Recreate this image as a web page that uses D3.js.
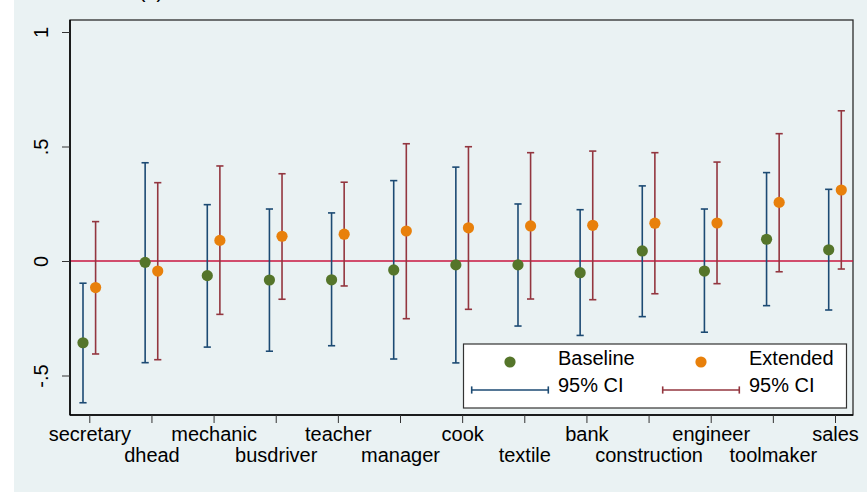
<!DOCTYPE html>
<html>
<head>
<meta charset="utf-8">
<script src="https://cdn.jsdelivr.net/npm/d3@7"></script>
<style>
  html, body { margin: 0; padding: 0; background: #ffffff; }
  svg { display: block; font-family: "Liberation Sans", Arial, sans-serif; }
</style>
</head>
<body>
<svg id="chart" width="867" height="492"></svg>
<script>
// Occupation categories along the x axis
const categories = ["secretary", "dhead", "mechanic", "busdriver", "teacher", "manager",
  "cook", "textile", "bank", "construction", "engineer", "toolmaker", "sales"];

// Baseline model: point estimates and 95% confidence bounds
const baselineEst = [-0.357, -0.006, -0.064, -0.083, -0.082, -0.039, -0.017, -0.017, -0.051, 0.044, -0.044, 0.095, 0.049];
const baselineLo  = [-0.619, -0.444, -0.376, -0.394, -0.370, -0.428, -0.445, -0.284, -0.325, -0.243, -0.311, -0.195, -0.214];
const baselineHi  = [-0.097, 0.429, 0.246, 0.227, 0.210, 0.351, 0.410, 0.249, 0.224, 0.328, 0.227, 0.386, 0.313];

// Extended model: point estimates and 95% confidence bounds
const extendedEst = [-0.116, -0.044, 0.090, 0.108, 0.117, 0.131, 0.145, 0.153, 0.156, 0.165, 0.166, 0.256, 0.310];
const extendedLo  = [-0.406, -0.431, -0.233, -0.167, -0.109, -0.252, -0.211, -0.166, -0.169, -0.143, -0.099, -0.047, -0.035];
const extendedHi  = [0.172, 0.342, 0.415, 0.381, 0.344, 0.512, 0.499, 0.473, 0.480, 0.473, 0.432, 0.556, 0.656];

// Y axis ticks and labels
const yTicks = [-0.5, 0, 0.5, 1];
const yTickLabels = ["-.5", "0", ".5", "1"];

const legendLabels = ["Baseline", "Extended", "95% CI", "95% CI"];

const colors = {
  bg: "#eaf2f3",
  baseDot: "#55752a",
  extDot: "#e8800b",
  baseCI: "#1c4a73",
  extCI: "#93363f",
  zero: "#c8163f"
};

const svg = d3.select("#chart");
const W = 867, H = 492;
const plot = { left: 70, right: 853, top: 20, bottom: 415 };

// Graph region background
svg.append("rect").attr("x", 0).attr("y", 0).attr("width", W).attr("height", H).attr("fill", "#ffffff");
svg.append("rect").attr("x", 14).attr("y", 0).attr("width", W - 14).attr("height", H).attr("fill", colors.bg);

// Partially visible panel title
svg.append("text").attr("x", 151).attr("y", -2).attr("text-anchor", "middle")
  .attr("font-size", 20).attr("fill", "#000").text("(a)");

const x = d3.scalePoint().domain(categories).range([89.3, 835]);
const y = d3.scaleLinear().domain([-0.5, 1]).range([375.5, 32]);
const offset = 6.3;
const cap = 3.6;

// Plot region border
svg.append("rect")
  .attr("x", plot.left).attr("y", plot.top)
  .attr("width", plot.right - plot.left).attr("height", plot.bottom - plot.top)
  .attr("fill", colors.bg).attr("stroke", "#2b2b2b").attr("stroke-width", 1.3);

// Reference line at zero
svg.append("line")
  .attr("x1", plot.left).attr("x2", plot.right)
  .attr("y1", y(0)).attr("y2", y(0))
  .attr("stroke", colors.zero).attr("stroke-width", 1.6);

// Y axis
const yAxis = d3.axisLeft(y).tickValues(yTicks).tickSize(8)
  .tickFormat((d, i) => yTickLabels[i]);
const gy = svg.append("g").attr("transform", `translate(${plot.left},0)`).call(yAxis);
gy.select(".domain").attr("d", `M0,${plot.top}V${plot.bottom}`).attr("stroke", "#000").attr("stroke-width", 1.5);
gy.selectAll(".tick line").attr("stroke", "#333").attr("stroke-width", 1);
gy.selectAll(".tick text")
  .attr("font-size", 20).attr("fill", "#000")
  .attr("text-anchor", "middle")
  .attr("dy", null).attr("x", null)
  .attr("transform", "translate(-22,0) rotate(-90)");

// X axis
const xAxis = d3.axisBottom(x).tickSize(8).tickPadding(2);
const gx = svg.append("g").attr("transform", `translate(0,${plot.bottom})`).call(xAxis);
gx.select(".domain").attr("d", `M${plot.left},0H${plot.right}`).attr("stroke", "#000").attr("stroke-width", 1.5);
gx.selectAll(".tick line").attr("stroke", "#333").attr("stroke-width", 1);
gx.selectAll(".tick text")
  .attr("font-size", 20).attr("fill", "#000")
  .attr("dy", null)
  .attr("y", (d, i) => i % 2 === 0 ? 26 : 47);

// Error bars with caps
function drawCI(lo, hi, dx, color) {
  const g = svg.append("g").attr("stroke", color).attr("stroke-width", 1.6).attr("fill", "none");
  categories.forEach((c, i) => {
    const cx = x(c) + dx;
    g.append("line").attr("x1", cx).attr("x2", cx).attr("y1", y(lo[i])).attr("y2", y(hi[i]));
    g.append("line").attr("x1", cx - cap).attr("x2", cx + cap).attr("y1", y(lo[i])).attr("y2", y(lo[i]));
    g.append("line").attr("x1", cx - cap).attr("x2", cx + cap).attr("y1", y(hi[i])).attr("y2", y(hi[i]));
  });
}
function drawDots(est, dx, color) {
  svg.append("g").selectAll("circle").data(est).join("circle")
    .attr("cx", (d, i) => x(categories[i]) + dx)
    .attr("cy", d => y(d))
    .attr("r", 5.6)
    .attr("fill", color);
}

drawCI(baselineLo, baselineHi, -offset, colors.baseCI);
drawCI(extendedLo, extendedHi, offset, colors.extCI);
drawDots(baselineEst, -offset, colors.baseDot);
drawDots(extendedEst, offset, colors.extDot);

// Legend
const lg = svg.append("g");
lg.append("rect").attr("x", 463.5).attr("y", 344).attr("width", 383).attr("height", 64)
  .attr("fill", "#ffffff").attr("stroke", "#333").attr("stroke-width", 1.2);
lg.append("circle").attr("cx", 510).attr("cy", 362).attr("r", 5.6).attr("fill", colors.baseDot);
lg.append("circle").attr("cx", 701).attr("cy", 362).attr("r", 5.6).attr("fill", colors.extDot);
function legendCI(x1, x2, yy, color) {
  const g = lg.append("g").attr("stroke", color).attr("stroke-width", 1.6);
  g.append("line").attr("x1", x1).attr("x2", x2).attr("y1", yy).attr("y2", yy);
  g.append("line").attr("x1", x1).attr("x2", x1).attr("y1", yy - cap).attr("y2", yy + cap);
  g.append("line").attr("x1", x2).attr("x2", x2).attr("y1", yy - cap).attr("y2", yy + cap);
}
legendCI(471.7, 548.3, 390, colors.baseCI);
legendCI(662.7, 739.3, 390, colors.extCI);
const legendPos = [[558, 365], [749, 365], [558, 392], [749, 392]];
legendLabels.forEach((t, i) => {
  lg.append("text").attr("x", legendPos[i][0]).attr("y", legendPos[i][1])
    .attr("font-size", 20).attr("fill", "#000").text(t);
});
</script>
</body>
</html>
